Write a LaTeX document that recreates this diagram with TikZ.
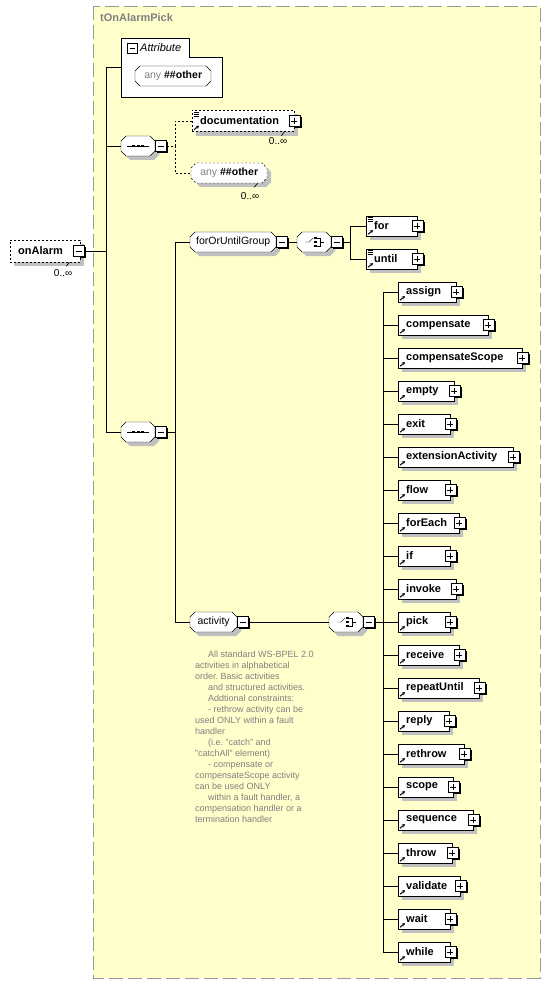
\documentclass[tikz,border=0pt]{standalone}
\usepackage{fontspec}
\setmainfont{Liberation Sans}
\usetikzlibrary{arrows.meta,calc}

\definecolor{xsdback}{HTML}{FFFFCC}
\definecolor{xsdshadow}{HTML}{C0C0C0}
\definecolor{xsdgray}{HTML}{808080}
\definecolor{xsdframe}{HTML}{999999}

\pgfdeclarelayer{frame}
\pgfdeclarelayer{shade}
\pgfsetlayers{frame,shade,main}

\tikzset{every picture/.style={line width=1pt}}
\tikzset{
  optional/.style={dash pattern=on 2pt off 2pt},
  elembox/.style={draw,fill=white,anchor=west,minimum height=20pt,inner xsep=0pt,inner ysep=0pt,
    text width=#1,align=left,font=\bfseries\fontsize{11pt}{13pt}\selectfont,
    execute at begin node={\hspace*{8pt}}},
  octa/.style={rectangle,anchor=west,minimum width=#1,minimum height=20pt,inner sep=0pt,
    font=\fontsize{10.5pt}{12pt}\selectfont},
  signbox/.style={draw,fill=white,minimum size=11pt,inner sep=0pt},
  minusbox/.style={signbox,path picture={
    \draw ([xshift=2.5pt]path picture bounding box.west) -- ([xshift=-2.5pt]path picture bounding box.east);}},
  plusbox/.style={signbox,path picture={
    \draw ([xshift=2.5pt]path picture bounding box.west) -- ([xshift=-2.5pt]path picture bounding box.east);
    \draw ([yshift=2.5pt]path picture bounding box.south) -- ([yshift=-2.5pt]path picture bounding box.north);}},
  occ/.style={inner sep=0pt,anchor=north east,font=\fontsize{10pt}{12pt}\selectfont},
  occtick/.style={line width=0.7pt},
  refarr/.style={line width=1pt,-{Stealth[length=3pt,width=3.5pt]}},
}

% octagon outline of a compositor or group, west point at #2, width #3
\newcommand\octpath[1]{(0,-5) -- (5,-10) -- ({#1-5},-10) -- (#1,-5) -- (#1,5) -- ({#1-5},10) -- (5,10) -- (0,5) -- cycle}
\newcommand\octframe[3][]{%
  \begin{pgfonlayer}{shade}\fill[xsdshadow,shift={($#2+(4,4)$)}] \octpath{#3};\end{pgfonlayer}
  \draw[fill=white,shift={#2},#1] \octpath{#3};
}
% grey shadow behind a box node, black one behind a +/- box
\newcommand\boxshade[1]{%
  \begin{pgfonlayer}{shade}\fill[xsdshadow] ([shift={(4,4)}]#1.north west) rectangle ([shift={(4,4)}]#1.south east);\end{pgfonlayer}
}
\newcommand\signshade[1]{%
  \begin{pgfonlayer}{shade}\fill[black] ([shift={(1.5,1.5)}]#1.north west) rectangle ([shift={(1.5,1.5)}]#1.south east);\end{pgfonlayer}
}
% little marks drawn inside the compositor boxes
\newcommand\seqmark[1]{%
  \draw (#1.center) ++(-11,0) -- ++(22,0);
  \foreach \dx in {-4.5,0,4.5} \fill ([xshift=\dx pt]#1.center) +(-1.4,-1.4) rectangle +(1.4,1.4);
}
\newcommand\choicemark[1]{%
  \draw (#1.center) ++(-9,0) -- ++(4,0) -- ++(4,-4);
  \foreach \dy in {-4,0,4} \fill ([shift={(1,\dy)}]#1.center) +(-1.3,-1.3) rectangle +(1.3,1.3);
  \draw ([shift={(3,-4)}]#1.center) -- ++(2.5,0) -- ++(0,8) -- ++(-2.5,0);
  \draw ([shift={(5.5,0)}]#1.center) -- ++(4,0);
}
\newcommand\docmark[1]{%
  \foreach \dy in {2,4,6} \draw[line width=0.7pt] ([shift={(2,\dy)}]#1.north west) -- ++(5,0);
}

\begin{document}
\begin{tikzpicture}[x=1pt,y=1pt,yscale=-1,xscale=1]
	\useasboundingbox (0,0) rectangle (550,984);

	% type frame
	\begin{pgfonlayer}{frame}
	\draw[xsdframe,fill=xsdback,dash pattern=on 14pt off 5pt] (93,6) rectangle (540,978);
	\end{pgfonlayer}
	\node[anchor=west,text=xsdgray,font=\bfseries\fontsize{11pt}{13pt}\selectfont,inner sep=0pt] (tname) at (100,18) {tOnAlarmPick};

	% root element
	\node[elembox=70,optional,minimum height=22pt] (onalarm) at (10,251) {onAlarm};
	\boxshade{onalarm}
	\node[minusbox] (onalarmm) at ([xshift=-1.5pt]onalarm.east) {};
	\signshade{onalarmm}
	\node[occ] (onalarmocc) at ([shift={(-8,7)}]onalarm.south east) {0..∞};
	\draw[occtick] ([shift={(-11,0)}]onalarm.south east) -- ++(-3,4);
	\coordinate (spine) at (106,251);
	\draw (onalarmm.east) -- (spine);

	% attributes
	\node[minimum width=101pt,minimum height=59pt,inner sep=0pt,anchor=north west] (attr) at (121,38) {};
	\draw[fill=white] (attr.north west) -- ++(68,0) -- ++(0,19) -| (attr.south east) -- (attr.south west) -- cycle;
	\node[minusbox,minimum size=10pt] (attrm) at (132,48) {};
	\node[anchor=west,font=\itshape\fontsize{11pt}{13pt}\selectfont,inner sep=0pt] (attrlbl) at (140,48) {Attribute};
	\octframe{(135,76)}{76}
	\node[octa=76] (attrany) at (135,76) {\textcolor{xsdgray}{any}\ \textbf{\#\#other}};
	\draw (spine) |- (attr.west);

	% first sequence
	\octframe{(121,146)}{34}
	\node[octa=34] (seq1) at (121,146) {};
	\seqmark{seq1}
	\node[minusbox,anchor=west] (seq1m) at (seq1.east) {};
	\signshade{seq1m}
	\draw (spine) |- (seq1.west);
	\coordinate (seq1bus) at (175,146);
	\draw[optional] (seq1m.east) -- (seq1bus);

	\node[elembox=102,optional,minimum height=21pt] (doc) at (192,121) {documentation};
	\boxshade{doc}
	\node[plusbox] (docp) at (doc.east) {};
	\signshade{docp}
	\docmark{doc}
	\draw[refarr] ([shift={(2,-2)}]doc.south west) -- ++(5,-4);
	\node[occ] (dococc) at ([shift={(-7,6)}]doc.south east) {0..∞};
	\draw[occtick] ([shift={(-10,0)}]doc.south east) -- ++(-3,4);
	\octframe[optional]{(191,173)}{76}
	\node[octa=76] (anyo) at (191,173) {\textcolor{xsdgray}{any}\ \textbf{\#\#other}};
	\node[occ] (anyoocc) at ([shift={(-8,9)}]anyo.south east) {0..∞};
	\draw[occtick] ([shift={(-10,0)}]anyo.south east) -- ++(-3,4);
	\draw[optional] (seq1bus) |- (doc.west);
	\draw[optional] (seq1bus) |- (anyo.west);

	% second sequence
	\octframe{(121,432)}{34}
	\node[octa=34] (seq2) at (121,432) {};
	\seqmark{seq2}
	\node[minusbox,anchor=west] (seq2m) at (seq2.east) {};
	\signshade{seq2m}
	\draw (spine) |- (seq2.west);
	\coordinate (seq2bus) at (175,432);
	\draw (seq2m.east) -- (seq2bus);

	% forOrUntilGroup
	\octframe{(190,242)}{86}
	\node[octa=86] (fug) at (190,242) {forOrUntilGroup};
	\node[minusbox,anchor=west] (fugm) at (fug.east) {};
	\signshade{fugm}
	\octframe{(297,242)}{34}
	\node[octa=34] (fugch) at (297,242) {};
	\choicemark{fugch}
	\node[minusbox,anchor=west] (fugchm) at (fugch.east) {};
	\signshade{fugchm}
	\draw (seq2bus) |- (fug.west);
	\draw (fugm.east) -- (fugch.west);
	\coordinate (fugbus) at (350,242);
	\draw (fugchm.east) -- (fugbus);

	\node[elembox=51] (for) at (366,226) {for};
	\node[elembox=51] (until) at (366,259) {until};
	\foreach \el in {for,until}{
		\boxshade{\el}
		\node[plusbox] (\el p) at (\el.east) {};
		\signshade{\el p}
		\docmark{\el}
		\draw[refarr] ([shift={(2,-2)}]\el.south west) -- ++(5,-4);
		\draw (fugbus) |- (\el.west);
	}

	% activity group
	\octframe{(190,622)}{47}
	\node[octa=47] (act) at (190,622) {activity};
	\node[minusbox,anchor=west] (actm) at (act.east) {};
	\signshade{actm}
	\octframe{(329,622)}{34}
	\node[octa=34] (actch) at (329,622) {};
	\choicemark{actch}
	\node[minusbox,anchor=west] (actchm) at (actch.east) {};
	\signshade{actchm}
	\draw (seq2bus) |- (act.west);
	\draw (actm.east) -- (actch.west);
	\coordinate (actbus) at (383,622);
	\draw (actchm.east) -- (actbus);

	\foreach \nm/\w [count=\i] in {assign/58,compensate/90,compensateScope/124,empty/56,exit/52,
		extensionActivity/115,flow/52,forEach/61,if/52,invoke/58,pick/52,receive/61,repeatUntil/81,
		reply/51,rethrow/66,scope/55,sequence/75,throw/54,validate/62,wait/52,while/52}{
		\node[elembox=\w] (c\i) at (398,{292+33*(\i-1)}) {\nm};
		\boxshade{c\i}
		\node[plusbox] (cp\i) at (c\i.east) {};
		\signshade{cp\i}
		\draw[refarr] ([shift={(2,-2)}]c\i.south west) -- ++(5,-4);
		\draw (actbus) |- (c\i.west);
	}

	% annotation of activity
	\node[anchor=north west,align=left,inner sep=0pt,text=xsdgray,font=\fontsize{9pt}{11pt}\selectfont\frenchspacing] (actnote) at (195,651)
		{\hspace*{13pt}All standard WS-BPEL 2.0\\
		activities in alphabetical\\
		order. Basic activities\\
		\hspace*{13pt}and structured activities.\\
		\hspace*{13pt}Addtional constraints:\\
		\hspace*{13pt}- rethrow activity can be\\
		used ONLY within a fault\\
		handler\\
		\hspace*{13pt}(i.e. "catch" and\\
		"catchAll" element)\\
		\hspace*{13pt}- compensate or\\
		compensateScope activity\\
		can be used ONLY\\
		\hspace*{13pt}within a fault handler, a\\
		compensation handler or a\\
		termination handler};

\end{tikzpicture}
\end{document}
